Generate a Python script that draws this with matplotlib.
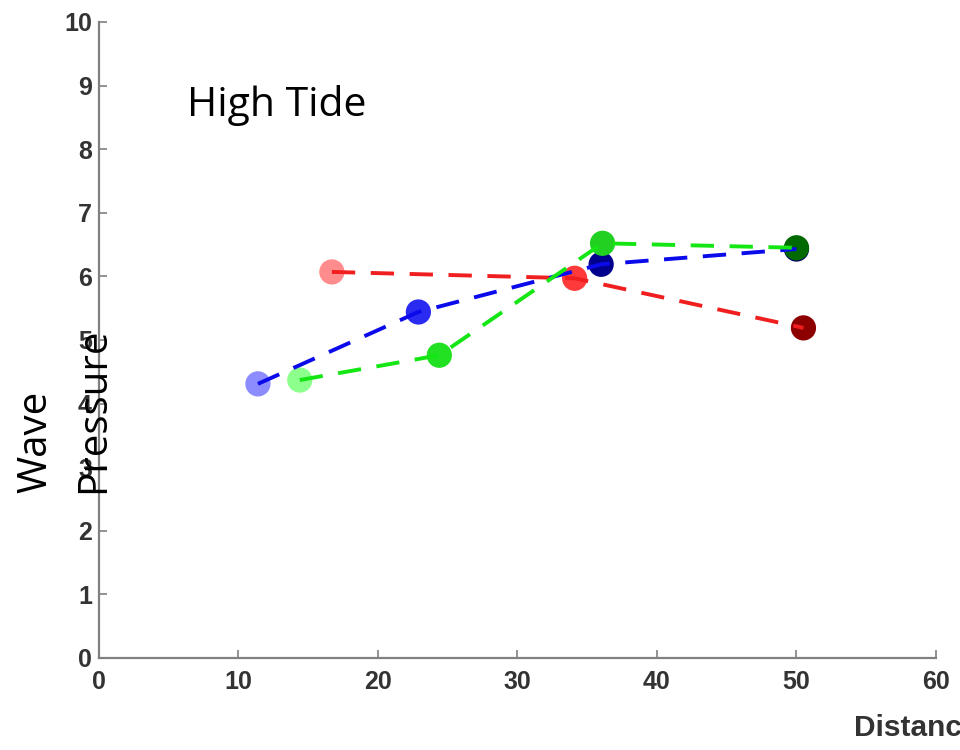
import matplotlib
matplotlib.use("Agg")
import matplotlib.pyplot as plt

# distance / pressure readings for each series (light -> dark along the line)
red_x = [16.7, 34.1, 50.5]
red_y = [6.07, 5.97, 5.19]
red_cols = ["#ff8c8c", "#ff3a3a", "#8c0000"]

blue_x = [11.4, 22.9, 36.0, 50.0]
blue_y = [4.31, 5.44, 6.19, 6.43]
blue_cols = ["#8c8cff", "#2a2af0", "#00008c", "#00006a"]

green_x = [14.4, 24.4, 36.1, 50.0]
green_y = [4.37, 4.76, 6.52, 6.45]
green_cols = ["#8cff8c", "#22e022", "#22d022", "#006a00"]

xticks = [0, 10, 20, 30, 40, 50, 60]
yticks = [0, 1, 2, 3, 4, 5, 6, 7, 8, 9, 10]

fig = plt.figure(figsize=(9.6, 7.5), dpi=100)
ax = fig.add_axes([0.103, 0.1227, 0.872, 0.848])

series = [
    (red_x, red_y, red_cols, "#f01e1e"),
    (blue_x, blue_y, blue_cols, "#0a0aea"),
    (green_x, green_y, green_cols, "#14e614"),
]
for xs, ys, cols, lc in series:
    ax.scatter(xs, ys, s=330, c=cols, zorder=3, linewidths=0)
    ax.plot(xs, ys, color=lc, lw=2.8, linestyle=(0, (6, 4)), zorder=4)

ax.set_xlim(0, 60)
ax.set_ylim(0, 10)
ax.set_xticks(xticks)
ax.set_yticks(yticks)
for s in ["top", "right"]:
    ax.spines[s].set_visible(False)
for s in ["left", "bottom"]:
    ax.spines[s].set_color("#808080")
    ax.spines[s].set_linewidth(1.6)
ax.tick_params(direction="in", length=6, width=1.2, color="#808080",
               labelcolor="#333333")
ax.tick_params(axis="x", pad=9)
ax.tick_params(axis="y", pad=5)
for lab in ax.get_xticklabels() + ax.get_yticklabels():
    lab.set_fontfamily("Liberation Sans")
    lab.set_fontweight("bold")
    lab.set_fontsize(18)

ax.text(6.3, 8.69, "High Tide", fontsize=29.5, family="Open Sans",
        color="black", va="center")

fig.text(0.038, 0.343, "Wave", rotation=90, fontsize=29, family="Open Sans",
         ha="center", va="bottom")
fig.text(0.098, 0.343, "Pressure", rotation=90, fontsize=29, family="Open Sans",
         ha="center", va="bottom")

fig.text(0.89, 0.029, "Distance", fontsize=21.5, fontweight="bold",
         family="Liberation Sans", color="#333333", ha="left", va="center")

fig.savefig("out.png", dpi=100)
